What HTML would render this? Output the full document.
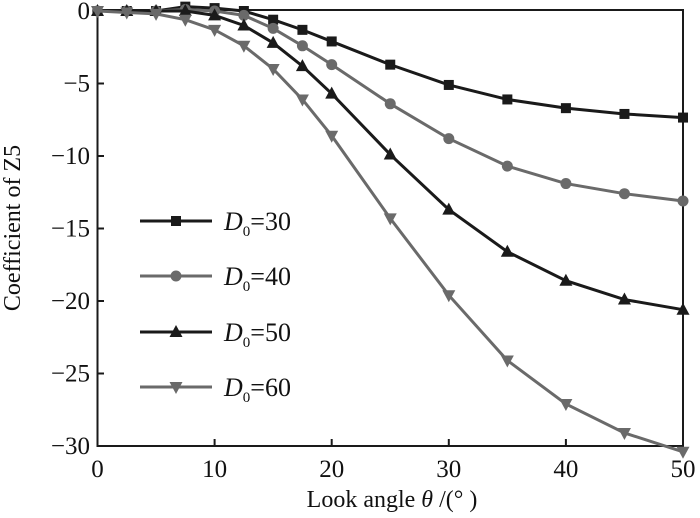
<!DOCTYPE html>
<html><head><meta charset="utf-8"><style>
html,body{margin:0;padding:0;background:#fff;}
svg{display:block;font-family:"Liberation Serif",serif;}
</style></head><body>
<svg id="s" width="700" height="518" viewBox="0 0 700 518" xmlns="http://www.w3.org/2000/svg">
<rect x="97.5" y="10" width="585.5" height="436" fill="none" stroke="#1a1a1a" stroke-width="2"/>
<g id="g"></g>
<text x="20" y="228" font-size="24" text-anchor="middle" transform="rotate(-90 20 228)" fill="#111">Coefficient of Z5</text>
<text x="392" y="507" font-size="24" text-anchor="middle" fill="#111">Look angle  <tspan font-style="italic">θ</tspan> /(° )</text>
</svg>
<script>
const g=document.getElementById('g');
const X=v=>97.5+v*(585.5/50), Y=v=>11-v*(435/30);
let h='';
for(let v=0;v<=50;v+=10){h+=`<line x1="${X(v)}" y1="446" x2="${X(v)}" y2="439" stroke="#1a1a1a" stroke-width="2"/><text x="${X(v)}" y="477" font-size="25" text-anchor="middle" fill="#111">${v}</text>`;}
for(let v=0;v>=-30;v-=5){h+=`<line x1="97.5" y1="${Y(v)}" x2="104" y2="${Y(v)}" stroke="#1a1a1a" stroke-width="2"/><text x="90" y="${Y(v)+8}" font-size="25" text-anchor="end" fill="#111">${v==0?'0':'−'+(-v)}</text>`;}
const xs=[0,2.5,5,7.5,10,12.5,15,17.5,20,25,30,35,40,45,50];
const S=[
 ['#1a1a1a','s',[0,0,0,0.3,0.2,0,-0.6,-1.3,-2.1,-3.7,-5.1,-6.1,-6.7,-7.1,-7.35],'30'],
 ['#6a6a6a','c',[0,0,0,0.1,0,-0.3,-1.2,-2.4,-3.7,-6.4,-8.8,-10.7,-11.9,-12.6,-13.1],'40'],
 ['#1a1a1a','t',[0,0,0,0,-0.3,-1,-2.2,-3.8,-5.7,-9.9,-13.7,-16.6,-18.6,-19.9,-20.6],'50'],
 ['#6a6a6a','v',[0,-0.1,-0.2,-0.6,-1.3,-2.4,-4,-6.1,-8.6,-14.3,-19.6,-24.1,-27.1,-29.1,-30.4],'60']];
function mk(t,x,y,c){
 if(t=='s')return `<rect x="${x-5}" y="${y-5}" width="10" height="10" fill="${c}"/>`;
 if(t=='c')return `<circle cx="${x}" cy="${y}" r="5.5" fill="${c}"/>`;
 if(t=='t')return `<polygon points="${x},${y-7} ${x-6.5},${y+5} ${x+6.5},${y+5}" fill="${c}"/>`;
 return `<polygon points="${x},${y+7} ${x-6.5},${y-5} ${x+6.5},${y-5}" fill="${c}"/>`;
}
const ly=[221,276,332,387];
S.forEach((s,i)=>{
 const p=xs.map((x,j)=>X(x)+','+Y(s[2][j])).join(' ');
 h+=`<polyline points="${p}" fill="none" stroke="${s[0]}" stroke-width="3"/>`;
 xs.forEach((x,j)=>h+=mk(s[1],X(x),Y(s[2][j]),s[0]));
 h+=`<line x1="140" y1="${ly[i]}" x2="212" y2="${ly[i]}" stroke="${s[0]}" stroke-width="3"/>`+mk(s[1],176,ly[i],s[0]);
 h+=`<text x="224" y="${ly[i]+9}" font-size="26" fill="#111"><tspan font-style="italic">D</tspan><tspan font-size="15" dy="6">0</tspan><tspan dy="-6">=${s[3]}</tspan></text>`;
});
g.innerHTML=h;
</script>
</body></html>
